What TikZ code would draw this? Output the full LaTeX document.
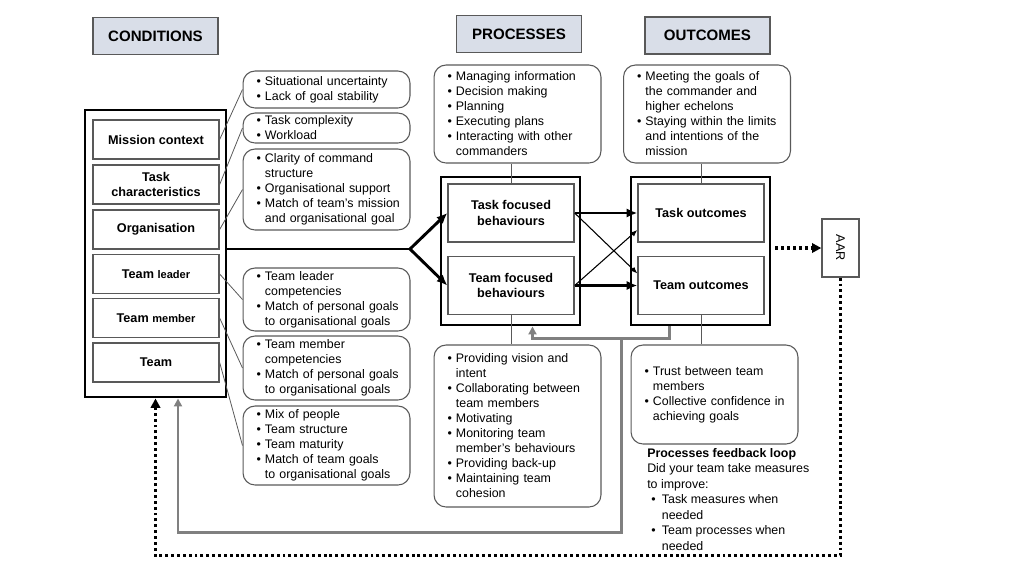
\documentclass[tikz,border=0pt]{standalone}
\usepackage{fontspec}
\setmainfont{Liberation Sans}
\usetikzlibrary{calc,arrows.meta}
\definecolor{headfill}{HTML}{D9DEE8}
\definecolor{linegrey}{HTML}{595959}
\definecolor{loopgrey}{HTML}{808080}
\newcommand{\itm}{\hspace*{2.5pt}\textbullet~}
\newcommand{\cnt}{\hspace*{2.5pt}\hphantom{\textbullet~}}
\newcommand{\nitm}{\makebox[11pt][l]{\hspace*{3pt}\textbullet}}
\newcommand{\ncnt}{\hspace*{11pt}}

\begin{document}
\begin{tikzpicture}[x=0.75pt,y=-0.75pt,
	head/.style={draw=linegrey,fill=headfill,line width=1.2pt,minimum width=93.75pt,minimum height=27.75pt,font=\fontsize{11.3}{13}\selectfont\bfseries},
	outer/.style={draw,line width=2.2pt,minimum width=104.25pt,minimum height=111pt},
	factor/.style={draw=linegrey,line width=1pt,minimum width=94.5pt,minimum height=29.25pt,align=center,font=\fontsize{9.5}{11.5}\selectfont\bfseries},
	behav/.style={factor,minimum height=43.5pt},
	bullets/.style={draw=linegrey,line width=0.8pt,rounded corners=9pt,text width=110pt,inner xsep=7.6pt,inner ysep=1pt,align=left,font=\fontsize{9.3}{11.25}\selectfont},
	link/.style={draw=linegrey,line width=0.6pt},
	flow/.style={line width=2.2pt,-{Latex[length=8pt,width=7pt]}},
	cross/.style={line width=0.8pt,-{Latex[length=5pt,width=4pt]}},
	gloop/.style={draw=loopgrey,line width=2pt,-{Triangle[length=6pt,width=6pt]}},
	fbloop/.style={line width=2.4pt,dash pattern=on 2.2pt off 2.2pt,-{Triangle[length=7pt,width=7pt]}},
	note/.style={align=left,inner sep=0pt,font=\fontsize{9.3}{11.6}\selectfont}]
	\useasboundingbox (0,0) rectangle (1024,576);

	% headings
	\node[head] (hcond) at (155.5,36) {CONDITIONS};
	\node[head] (hproc) at (519,34) {PROCESSES};
	\node[head] (hout) at (707.5,35.5) {OUTCOMES};

	% conditions
	\node[outer,minimum width=105.75pt,minimum height=215.25pt] (lbox) at (155.5,253.5) {};
	\node[factor] (mc) at (156,139.5) {Mission context};
	\node[factor] (tc) at (156,184.5) {Task\\characteristics};
	\node[factor] (org) at (156,229.5) {Organisation};
	\node[factor] (tl) at (156,274) {Team {\fontsize{8.3}{10}\selectfont leader}};
	\node[factor] (tm) at (156,318) {Team {\fontsize{8.3}{10}\selectfont member}};
	\node[factor] (team) at (156,362.5) {Team};

	\node[bullets,minimum height=27.75pt] (b1) at (326.5,89.5) {\itm Situational uncertainty\\\itm Lack of goal stability};
	\node[bullets,minimum height=22.5pt] (b2) at (326.5,128) {\itm Task complexity\\\itm Workload};
	\node[bullets,minimum height=60.75pt] (b3) at (326.5,189.5) {\itm Clarity of command\\\cnt structure\\\itm Organisational support\\\itm Match of team’s mission\\\cnt and organisational goal};
	\node[bullets,minimum height=47.25pt] (b4) at (326.5,299.5) {\itm Team leader\\\cnt competencies\\\itm Match of personal goals\\\cnt to organisational goals};
	\node[bullets,minimum height=48pt] (b5) at (326.5,368) {\itm Team member\\\cnt competencies\\\itm Match of personal goals\\\cnt to organisational goals};
	\node[bullets,minimum height=59.25pt] (b6) at (326.5,445.5) {\itm Mix of people\\\itm Team structure\\\itm Team maturity\\\itm Match of team goals\\\cnt to organisational goals};

	\draw[link] (mc.east) -- (b1.west);
	\draw[link] (tc.east) -- (b2.west);
	\draw[link] (org.east) -- (b3.west);
	\draw[link] (tl.east) -- (b4.west);
	\draw[link] (tm.east) -- (b5.west);
	\draw[link] (team.east) -- (b6.west);

	% processes
	\node[bullets,minimum height=73.5pt] (ptop) at (517.5,114) {\itm Managing information\\\itm Decision making\\\itm Planning\\\itm Executing plans\\\itm Interacting with other\\\cnt commanders};
	\node[outer] (poutb) at (510.5,251) {};
	\node[behav] (taskf) at (511,213) {Task focused\\behaviours};
	\node[behav] (teamf) at (511,285.5) {Team focused\\behaviours};
	\node[bullets,minimum height=121.5pt] (pbot) at (517.5,426) {\itm Providing vision and\\\cnt intent\\\itm Collaborating between\\\cnt team members\\\itm Motivating\\\itm Monitoring team\\\cnt member’s behaviours\\\itm Providing back-up\\\itm Maintaining team\\\cnt cohesion};

	% outcomes
	\node[bullets,minimum height=73.5pt] (otop) at (707,114) {\itm Meeting the goals of\\\cnt the commander and\\\cnt higher echelons\\\itm Staying within the limits\\\cnt and intentions of the\\\cnt mission};
	\node[outer] (ooutb) at (700.5,251) {};
	\node[behav] (tasko) at (701,213) {Task outcomes};
	\node[behav] (teamo) at (701,285.5) {Team outcomes};
	\node[bullets,minimum height=74.25pt] (obot) at (714.5,394.5) {\itm Trust between team\\\cnt members\\\itm Collective confidence in\\\cnt achieving goals};
	\node[note,anchor=north west] (fbnote) at (647,448) {\textbf{Processes feedback loop}\\Did your team take measures\\to improve:\\\nitm Task measures when\\\ncnt needed\\\nitm Team processes when\\\ncnt needed};

	\node[draw=linegrey,line width=1pt,minimum width=27.75pt,minimum height=43.5pt,font=\fontsize{9.5}{11}\selectfont] (aar) at (840.5,248) {\rotatebox{-90}{AAR}};

	\draw[link] (taskf.north) -- (taskf.north |- ptop.south);
	\draw[link] (teamf.south) -- (teamf.south |- pbot.north);
	\draw[link] (tasko.north) -- (tasko.north |- otop.south);
	\draw[link] (teamo.south) -- (teamo.south |- obot.north);

	% flows
	\coordinate (split) at (410,249);
	\draw[line width=2.2pt] (lbox.east |- split) -- (split);
	\draw[flow] (split) -- (taskf.west);
	\draw[flow] (split) -- (teamf.west);
	\draw[flow] (taskf.east) -- (tasko.west);
	\draw[flow] (teamf.east) -- (teamo.west);
	\draw[cross] (taskf.east) -- ($(teamo.west)+(0,-12)$);
	\draw[cross] (teamf.east) -- ($(tasko.west)+(0,17)$);

	% feedback loops
	\draw[gloop] ($(ooutb.south)+(-31,0)$) -- ++(0,12) coordinate (gfork) -| ($(poutb.south)+(22,0)$);
	\draw[gloop] ($(gfork)+(-48,0)$) -- ++(0,194) -| ($(lbox.south)+(22.5,0)$);
	\draw[fbloop,shorten <=3pt] (ooutb.east |- aar.west) -- (aar.west);
	\draw[fbloop] (aar.south) -- ++(0,278) -| (lbox.south);
\end{tikzpicture}
\end{document}
